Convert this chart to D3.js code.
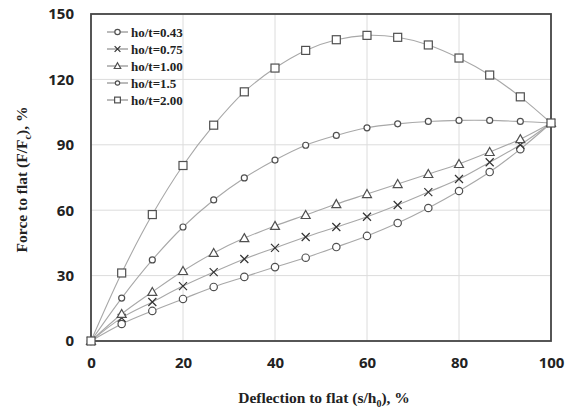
<!DOCTYPE html>
<html>
    <head>
        <script src="https://d3js.org/d3.v7.min.js"></script>
        <style>
            body { margin:0; background:#fff; }
            svg { display:block; }
        </style>
    </head>
    <body>
        <svg id="chart" width="573" height="409"></svg>
    </body>
    <script>

        // data
        const deflection = [0, 6.67, 13.33, 20, 26.67, 33.33, 40, 46.67, 53.33, 60, 66.67, 73.33, 80, 86.67, 93.33, 100];
        const ratio043 = [0, 7.8, 13.8, 19.3, 24.8, 29.4, 33.9, 38.2, 43.1, 48.2, 54.1, 61.0, 68.8, 77.5, 88.0, 100];
        const ratio075 = [0, 10.6, 17.9, 25.2, 31.6, 37.6, 42.7, 47.7, 52.3, 57.0, 62.4, 68.3, 74.3, 82.0, 90.0, 100];
        const ratio100 = [0, 12.4, 22.5, 32.1, 40.4, 47.2, 52.8, 57.8, 62.8, 67.4, 72.0, 76.6, 81.2, 86.7, 92.6, 100];
        const ratio150 = [0, 19.7, 37.2, 52.3, 64.7, 74.8, 83.0, 89.8, 94.3, 97.8, 99.6, 100.7, 101.2, 101.2, 100.7, 100];
        const ratio200 = [0, 31.2, 58.0, 80.5, 99.0, 114.3, 125.2, 133.3, 138.2, 140.2, 139.3, 135.8, 129.8, 122.0, 112.0, 100];
        const seriesNames = ['ho/t=0.43', 'ho/t=0.75', 'ho/t=1.00', 'ho/t=1.5', 'ho/t=2.00'];
        const markerTypes = ['circle', 'cross', 'triangle', 'diamond', 'square'];
        const xTicks = [0, 20, 40, 60, 80, 100];
        const yTicks = [0, 30, 60, 90, 120, 150];

        const allSeries = [ratio043, ratio075, ratio100, ratio150, ratio200];

        const svg = d3.select('#chart');
        const plotLeft = 91, plotRight = 551, plotTop = 14, plotBottom = 341;

        const x = d3.scaleLinear().domain([0, 100]).range([plotLeft, plotRight]);
        const y = d3.scaleLinear().domain([0, 150]).range([plotBottom, plotTop]);

        // gridlines
        svg.append('g')
            .selectAll('line')
            .data(xTicks.slice(1, -1))
            .join('line')
            .attr('x1', d => x(d)).attr('x2', d => x(d))
            .attr('y1', plotTop).attr('y2', plotBottom)
            .style('stroke', '#dcdcdc').style('stroke-width', 1);
        svg.append('g')
            .selectAll('line')
            .data(yTicks.slice(1, -1))
            .join('line')
            .attr('x1', plotLeft).attr('x2', plotRight)
            .attr('y1', d => y(d)).attr('y2', d => y(d))
            .style('stroke', '#dcdcdc').style('stroke-width', 1);

        // axes (labels only, ticks hidden)
        const xAxis = svg.append('g')
            .attr('transform', `translate(0,${plotBottom})`)
            .call(d3.axisBottom(x).tickValues(xTicks).tickSize(0).tickPadding(16));
        const yAxis = svg.append('g')
            .attr('transform', `translate(${plotLeft},0)`)
            .call(d3.axisLeft(y).tickValues(yTicks).tickSize(0).tickPadding(17));
        [xAxis, yAxis].forEach(a => {
            a.select('.domain').remove();
            a.selectAll('text')
                .style('font-family', '"Open Sans", sans-serif')
                .style('font-weight', 'bold')
                .style('font-size', '15px')
                .style('fill', '#222');
        });

        // frame
        svg.append('rect')
            .attr('x', plotLeft).attr('y', plotTop)
            .attr('width', plotRight - plotLeft).attr('height', plotBottom - plotTop)
            .style('fill', 'none').style('stroke', '#444').style('stroke-width', 1.8);

        // curves
        const line = d3.line()
            .x((d, i) => x(deflection[i]))
            .y(d => y(d))
            .curve(d3.curveCatmullRom.alpha(0.5));

        svg.append('g')
            .selectAll('path')
            .data(allSeries)
            .join('path')
            .attr('d', line)
            .style('fill', 'none')
            .style('stroke', '#a8a8a8')
            .style('stroke-width', 1.1);

        // markers
        function drawMarker(g, type, cx, cy, k) {
            const st = s => s.style('stroke', '#505050').style('stroke-width', 1.2).style('fill', '#fff');
            if (type === 'circle') {
                st(g.append('circle').attr('cx', cx).attr('cy', cy).attr('r', 3.7 * k));
            } else if (type === 'square') {
                st(g.append('rect').attr('x', cx - 4 * k).attr('y', cy - 4 * k).attr('width', 8 * k).attr('height', 8 * k));
            } else if (type === 'triangle') {
                st(g.append('path').attr('d', `M${cx},${cy - 4.5 * k}L${cx + 4.5 * k},${cy + 3.5 * k}L${cx - 4.5 * k},${cy + 3.5 * k}Z`));
            } else if (type === 'diamond') {
                st(g.append('circle').attr('cx', cx).attr('cy', cy).attr('r', 3 * k));
            } else if (type === 'cross') {
                g.append('path')
                    .attr('d', `M${cx - 4 * k},${cy - 4 * k}L${cx + 4 * k},${cy + 4 * k}M${cx - 4 * k},${cy + 4 * k}L${cx + 4 * k},${cy - 4 * k}`)
                    .style('stroke', '#333').style('stroke-width', 1.2);
            }
        }

        allSeries.forEach((s, k) => {
            const g = svg.append('g');
            s.forEach((v, i) => drawMarker(g, markerTypes[k], x(deflection[i]), y(v), 1));
        });

        // legend
        const legend = svg.append('g');
        const rowY = d3.scaleLinear().domain([0, 4]).range([32, 100]);
        seriesNames.forEach((name, k) => {
            const yy = rowY(k);
            legend.append('line')
                .attr('x1', 107).attr('x2', 128)
                .attr('y1', yy).attr('y2', yy)
                .style('stroke', '#777').style('stroke-width', 1);
            drawMarker(legend, markerTypes[k], 117.5, yy, 0.72);
            legend.append('text')
                .attr('x', 131).attr('y', yy + 4.5)
                .text(name)
                .style('font-family', '"Liberation Serif", serif')
                .style('font-weight', 'bold')
                .style('font-size', '13px')
                .style('fill', '#222');
        });

        // axis titles
        const xTitle = svg.append('text')
            .attr('x', (plotLeft + plotRight) / 2 + 3).attr('y', 403)
            .attr('text-anchor', 'middle')
            .style('font-family', '"Liberation Serif", serif')
            .style('font-weight', 'bold')
            .style('font-size', '15.5px')
            .style('fill', '#222');
        xTitle.append('tspan').text('Deflection to flat (s/h');
        xTitle.append('tspan').attr('dy', 4).style('font-size', '10px').text('0');
        xTitle.append('tspan').attr('dy', -4).text('), %');

        const yTitle = svg.append('text')
            .attr('transform', `translate(27,${(plotTop + plotBottom) / 2 + 2}) rotate(-90)`)
            .attr('text-anchor', 'middle')
            .style('font-family', '"Liberation Serif", serif')
            .style('font-weight', 'bold')
            .style('font-size', '15.5px')
            .style('fill', '#222');
        yTitle.append('tspan').text('Force to flat (F/F');
        yTitle.append('tspan').attr('dy', 4).style('font-size', '10px').text('c');
        yTitle.append('tspan').attr('dy', -4).text('), %');

    </script>
</html>
